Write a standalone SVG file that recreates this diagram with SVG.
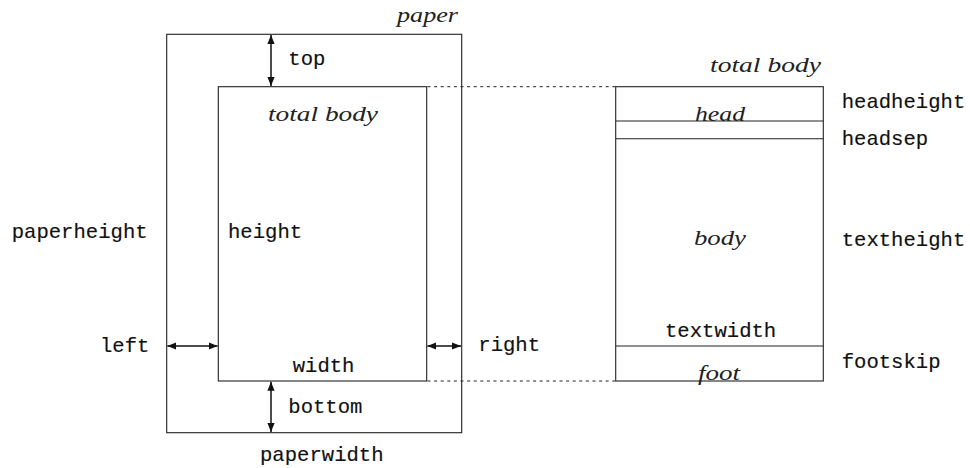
<svg xmlns="http://www.w3.org/2000/svg" width="970" height="468" viewBox="0 0 970 468">
<defs>
<style>
.box{fill:none;stroke:#222;stroke-width:1.1}
.rule{stroke:#222;stroke-width:1.1}
.dash{stroke:#222;stroke-width:1;stroke-dasharray:3 3.6}
.arr{stroke:#111;stroke-width:1.5;marker-start:url(#ah);marker-end:url(#ah)}
.tt{font-family:"Liberation Mono","DejaVu Sans Mono",monospace;font-size:20.6px;fill:#111;stroke:#111;stroke-width:0.15}
.it{font-family:"Liberation Serif","DejaVu Serif",serif;font-style:italic;font-size:21px;fill:#222}
</style>
<marker id="ah" viewBox="0 0 10 8" refX="10" refY="4" markerWidth="6" markerHeight="5" orient="auto-start-reverse" markerUnits="strokeWidth">
<path d="M0,0 L10,4 L0,8 z" fill="#111"/>
</marker>
</defs>
<rect width="970" height="468" fill="#fff"/>

<g id="paper">
<rect class="box" x="166.7" y="34.3" width="295" height="398.4"/>
<text class="it" x="397" y="22" textLength="61" lengthAdjust="spacingAndGlyphs">paper</text>
<text class="tt" x="11.7" y="238">paperheight</text>
<text class="tt" x="260" y="461">paperwidth</text>
</g>

<g id="totalbody-left">
<rect class="box" x="218.3" y="86.7" width="208.4" height="294.3"/>
<text class="it" x="268" y="121" textLength="110" lengthAdjust="spacingAndGlyphs">total body</text>
<text class="tt" x="228" y="238">height</text>
<text class="tt" x="292.7" y="372">width</text>
</g>

<g id="margins">
<text class="tt" x="288.3" y="65">top</text>
<text class="tt" x="100" y="352">left</text>
<text class="tt" x="478.3" y="351">right</text>
<text class="tt" x="288.3" y="413">bottom</text>
</g>

<g id="totalbody-right">
<rect class="box" x="615.7" y="86.7" width="207.6" height="294.3"/>
<line class="rule" x1="615.7" y1="121" x2="823.3" y2="121"/>
<line class="rule" x1="615.7" y1="138.7" x2="823.3" y2="138.7"/>
<line class="rule" x1="615.7" y1="346" x2="823.3" y2="346"/>
<text class="it" x="710" y="72" textLength="111" lengthAdjust="spacingAndGlyphs">total body</text>
<text class="it" x="695" y="121" textLength="50" lengthAdjust="spacingAndGlyphs">head</text>
<text class="it" x="694" y="245" textLength="52" lengthAdjust="spacingAndGlyphs">body</text>
<text class="it" x="698" y="380" textLength="42" lengthAdjust="spacingAndGlyphs">foot</text>
<text class="tt" x="665" y="337">textwidth</text>
</g>

<g id="labels-right">
<text class="tt" x="841.7" y="108">headheight</text>
<text class="tt" x="841.7" y="145">headsep</text>
<text class="tt" x="841.7" y="246">textheight</text>
<text class="tt" x="841.7" y="368">footskip</text>
</g>

<g id="connectors">
<line class="arr" x1="271" y1="35" x2="271" y2="86"/>
<line class="arr" x1="271" y1="381.7" x2="271" y2="432"/>
<line class="arr" x1="167.4" y1="346" x2="217.6" y2="346"/>
<line class="arr" x1="427.4" y1="346" x2="461" y2="346"/>
<line class="dash" x1="427.5" y1="86.7" x2="615.7" y2="86.7"/>
<line class="dash" x1="427.5" y1="381" x2="615.7" y2="381"/>
</g>
</svg>
